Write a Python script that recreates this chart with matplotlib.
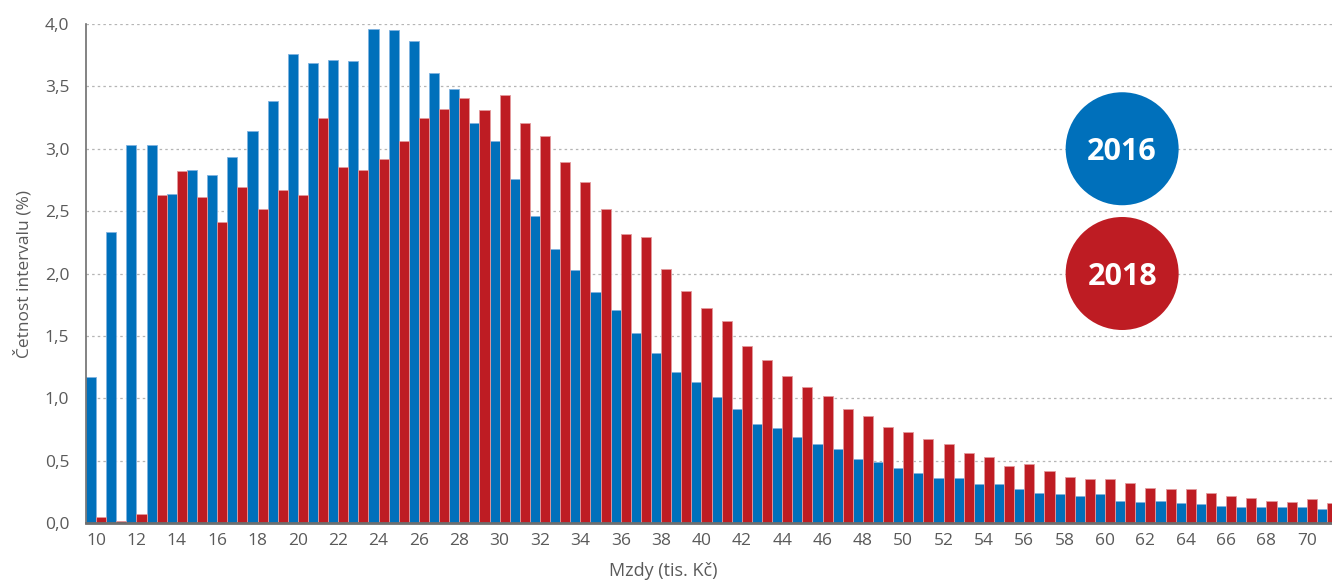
import matplotlib.pyplot as plt
from matplotlib.patches import Ellipse
from matplotlib.ticker import FuncFormatter
import numpy as np

plt.rcParams["font.family"] = ["Open Sans", "DejaVu Sans"]

# wage intervals (thousand CZK)
wages = list(range(10, 72))

# share of employees in each interval (%)
share_2016 = [1.17, 2.33, 3.03, 3.03, 2.64, 2.83, 2.79, 2.93, 3.14, 3.38,
              3.76, 3.69, 3.71, 3.70, 3.96, 3.95, 3.86, 3.61, 3.48, 3.21,
              3.06, 2.76, 2.46, 2.20, 2.03, 1.85, 1.71, 1.52, 1.36, 1.21,
              1.13, 1.01, 0.91, 0.79, 0.76, 0.69, 0.63, 0.59, 0.51, 0.49,
              0.44, 0.40, 0.36, 0.36, 0.31, 0.31, 0.27, 0.24, 0.23, 0.22,
              0.23, 0.18, 0.17, 0.18, 0.16, 0.155, 0.14, 0.13, 0.13, 0.13,
              0.13, 0.11]
share_2018 = [0.05, 0.02, 0.07, 2.63, 2.82, 2.61, 2.41, 2.69, 2.52, 2.67,
              2.63, 3.25, 2.85, 2.83, 2.92, 3.06, 3.25, 3.32, 3.41, 3.31,
              3.43, 3.21, 3.10, 2.89, 2.73, 2.52, 2.32, 2.29, 2.04, 1.86,
              1.72, 1.62, 1.42, 1.31, 1.18, 1.09, 1.02, 0.91, 0.86, 0.77,
              0.73, 0.67, 0.63, 0.56, 0.53, 0.46, 0.47, 0.42, 0.37, 0.35,
              0.35, 0.32, 0.28, 0.27, 0.27, 0.24, 0.22, 0.20, 0.18, 0.17,
              0.19, 0.16]

years = ["2016", "2018"]
BLUE = "#0070bb"
RED = "#be1c23"
GRAY = "#5a5a5a"

fig = plt.figure(figsize=(13.32, 5.81), dpi=100)
ax = fig.add_axes([86 / 1332, 58 / 581, 1246 / 1332, 499 / 581])

x = np.array(wages)
ax.bar(x - 0.25, share_2016, width=0.5, color=BLUE, edgecolor="#7fb3e0",
       linewidth=0.6, zorder=2)
ax.bar(x + 0.25, share_2018, width=0.5, color=RED, edgecolor="#e39a9d",
       linewidth=0.6, zorder=2)

ax.set_xlim(9.5, 71.25)
ax.set_ylim(0, 4.0)
ax.set_yticks(np.arange(0, 4.01, 0.5))
ax.set_xticks(range(10, 71, 2))
ax.yaxis.set_major_formatter(FuncFormatter(lambda v, p: f"{v:.1f}".replace(".", ",")))

ax.grid(axis="y", color="#b5b5b5", linestyle=(0, (2, 2.5)), linewidth=0.9, zorder=0)
ax.set_axisbelow(True)

for s in ["top", "right"]:
    ax.spines[s].set_visible(False)
ax.spines["left"].set_color("#6e6e6e")
ax.spines["left"].set_linewidth(1.2)
ax.spines["bottom"].set_color("#6e6e6e")
ax.spines["bottom"].set_linewidth(2)
ax.spines["bottom"].set_zorder(3)

ax.tick_params(axis="both", length=0, labelsize=12.5, labelcolor=GRAY)
ax.tick_params(axis="y", pad=12)
ax.tick_params(axis="x", pad=7)

ax.set_ylabel("Četnost intervalu (%)", fontsize=12.5, color=GRAY, labelpad=9)
fig.text(0.498, 1 - 562 / 581, "Mzdy (tis. Kč)", ha="center", va="top",
         fontsize=13, color=GRAY)

# year badges
for year, col, yc in zip(years, [BLUE, RED], [3.0, 2.0]):
    ax.add_patch(Ellipse((60.85, yc), width=113 / 20.18, height=113 / 124.75,
                         facecolor=col, edgecolor="none", zorder=4))
    ax.text(60.85, yc, year, ha="center", va="center_baseline", color="white",
            fontsize=22, fontweight="bold", zorder=5)

fig.savefig("out.png", dpi=100)
